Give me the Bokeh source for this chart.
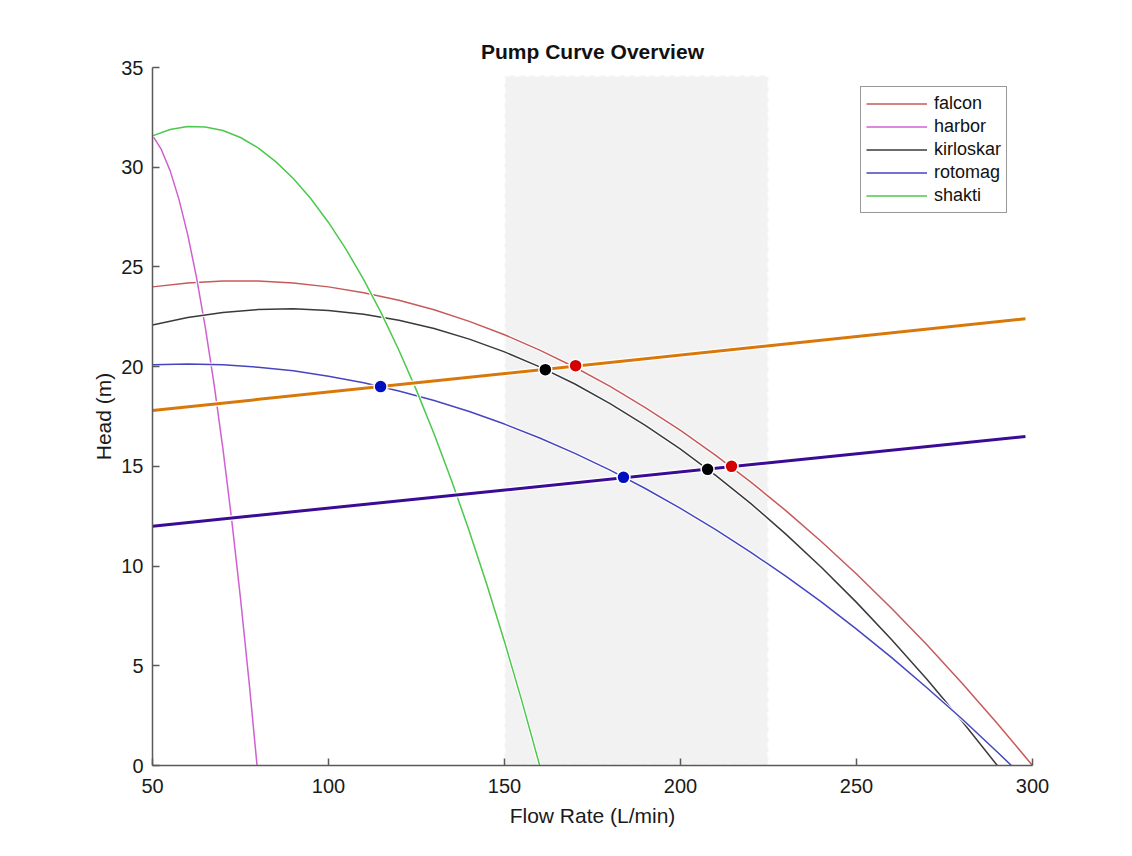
from bokeh.plotting import figure
from bokeh.models import Range1d, Legend, LegendItem, ColumnDataSource
from bokeh.embed import file_html
from bokeh.resources import INLINE

# ---- data ----
falcon_x = [50, 60, 70, 80, 90, 100, 110, 120, 130, 140, 150, 160, 170, 180, 190,
            200, 210, 220, 230, 240, 250, 260, 270, 280, 290, 300]
falcon_y = [24.00, 24.19, 24.29, 24.29, 24.19, 24.00, 23.71, 23.33, 22.85, 22.27, 21.60,
            20.83, 19.97, 19.01, 17.95, 16.80, 15.55, 14.21, 12.77, 11.23, 9.60, 7.87,
            6.05, 4.13, 2.11, 0.00]

harbor_x = [50, 52.5, 55, 57.5, 60, 62.5, 65, 67.5, 70, 72.5, 75, 77.5, 79.7]
harbor_y = [31.60, 30.89, 29.83, 28.40, 26.62, 24.48, 21.97, 19.11, 15.89, 12.32, 8.38,
            4.08, 0.00]

kirloskar_x = [50, 60, 70, 80, 90, 100, 110, 120, 130, 140, 150, 160, 170, 180, 190,
               200, 210, 220, 230, 240, 250, 260, 270, 280, 290]
kirloskar_y = [22.09, 22.46, 22.72, 22.86, 22.90, 22.82, 22.63, 22.33, 21.91, 21.38, 20.74,
               19.99, 19.13, 18.15, 17.06, 15.86, 14.55, 13.13, 11.59, 9.94, 8.18, 6.30,
               4.32, 2.22, 0.00]

rotomag_x = [50, 60, 70, 80, 90, 100, 110, 120, 130, 140, 150, 160, 170, 180, 190,
             200, 210, 220, 230, 240, 250, 260, 270, 280, 290, 294]
rotomag_y = [20.10, 20.13, 20.09, 19.97, 19.79, 19.52, 19.19, 18.78, 18.30, 17.75, 17.12,
             16.42, 15.65, 14.81, 13.89, 12.89, 11.83, 10.69, 9.48, 8.20, 6.84, 5.41,
             3.90, 2.33, 0.68, 0.00]

shakti_x = [50, 55, 60, 65, 70, 75, 80, 85, 90, 95, 100, 105, 110, 115, 120, 125, 130,
            135, 140, 145, 150, 155, 160]
shakti_y = [31.57, 31.89, 32.04, 32.02, 31.84, 31.49, 30.97, 30.28, 29.43, 28.42, 27.23,
            25.88, 24.36, 22.68, 20.82, 18.81, 16.62, 14.27, 11.75, 9.06, 6.21, 3.19, 0.00]

system_x = [50, 298]
system_high_y = [17.8, 22.4]
system_low_y = [12.0, 16.5]

op_x = [114.8, 161.6, 170.2, 183.8, 207.7, 214.5]
op_y = [19.0, 19.85, 20.05, 14.45, 14.85, 15.0]
op_color = ["#0010c0", "#000000", "#d40000", "#0010c0", "#000000", "#d40000"]

band_left = [150]
band_right = [225]
band_bottom = [0]
band_top = [34.6]

names = ["falcon", "harbor", "kirloskar", "rotomag", "shakti"]
colors = ["#c65a5a", "#d060d0", "#3a3a3a", "#4646c0", "#4cc84c"]
curves_x = [falcon_x, harbor_x, kirloskar_x, rotomag_x, shakti_x]
curves_y = [falcon_y, harbor_y, kirloskar_y, rotomag_y, shakti_y]

FONT = "Liberation Sans"

p = figure(width=1132, height=856, output_backend="svg", toolbar_location=None,
           x_range=Range1d(50, 300), y_range=Range1d(0, 35),
           min_border_left=152, min_border_right=100, min_border_top=67,
           min_border_bottom=91, title="Pump Curve Overview")
p.outline_line_color = None
p.grid.visible = False
p.background_fill_color = "white"
p.border_fill_color = "white"

p.title.align = "center"
p.title.text_font = FONT
p.title.text_font_size = "21px"
p.title.text_font_style = "bold"
p.title.text_color = "#111111"

for ax in (p.xaxis[0], p.yaxis[0]):
    ax.axis_line_color = "#5a5a5a"
    ax.axis_line_width = 1.5
    ax.major_tick_line_color = "#5a5a5a"
    ax.major_tick_line_width = 1.5
    ax.major_tick_in = 7
    ax.major_tick_out = 0
    ax.minor_tick_line_color = None
    ax.major_label_text_font = FONT
    ax.major_label_text_font_size = "20px"
    ax.major_label_text_color = "#1a1a1a"
    ax.axis_label_text_font = FONT
    ax.axis_label_text_font_size = "21px"
    ax.axis_label_text_font_style = "normal"
    ax.axis_label_text_color = "#1a1a1a"

p.xaxis.ticker = [50, 100, 150, 200, 250, 300]
p.yaxis.ticker = [0, 5, 10, 15, 20, 25, 30, 35]
p.xaxis.axis_label = "Flow Rate (L/min)"
p.yaxis.axis_label = "Head (m)"
p.xaxis.major_label_standoff = 13
p.yaxis.major_label_standoff = 9
p.xaxis.axis_label_standoff = 8
p.yaxis.axis_label_standoff = 3

# shaded band
p.quad(left=band_left, right=band_right, bottom=band_bottom, top=band_top,
       fill_color="#f2f2f2", line_color="white", line_width=2, line_dash="6 4")

items = []
for nm, c, xs, ys in zip(names, colors, curves_x, curves_y):
    p.line(xs, ys, line_color="white", line_width=3.5)
    r = p.line(xs, ys, line_color=c, line_width=1.5)
    items.append(LegendItem(label=nm, renderers=[r]))

for ys, c in ((system_high_y, "#d9780a"), (system_low_y, "#3b0b96")):
    p.line(system_x, ys, line_color="white", line_width=5.5)
    p.line(system_x, ys, line_color=c, line_width=3)

src = ColumnDataSource(dict(x=op_x, y=op_y, c=op_color))
p.scatter("x", "y", source=src, size=13, fill_color="c", line_color="white",
          line_width=1.5)

legend = Legend(items=items, location=(708, 552), margin=0, padding=5,
                spacing=0, glyph_width=61, glyph_height=23, label_height=23,
                label_standoff=7, label_text_font=FONT,
                label_text_font_size="18px", label_text_color="#111111",
                border_line_color="#333333", border_line_width=1.2,
                background_fill_color="white", background_fill_alpha=1)
p.add_layout(legend, "center")

open("out.html", "w").write(file_html(p, INLINE))
